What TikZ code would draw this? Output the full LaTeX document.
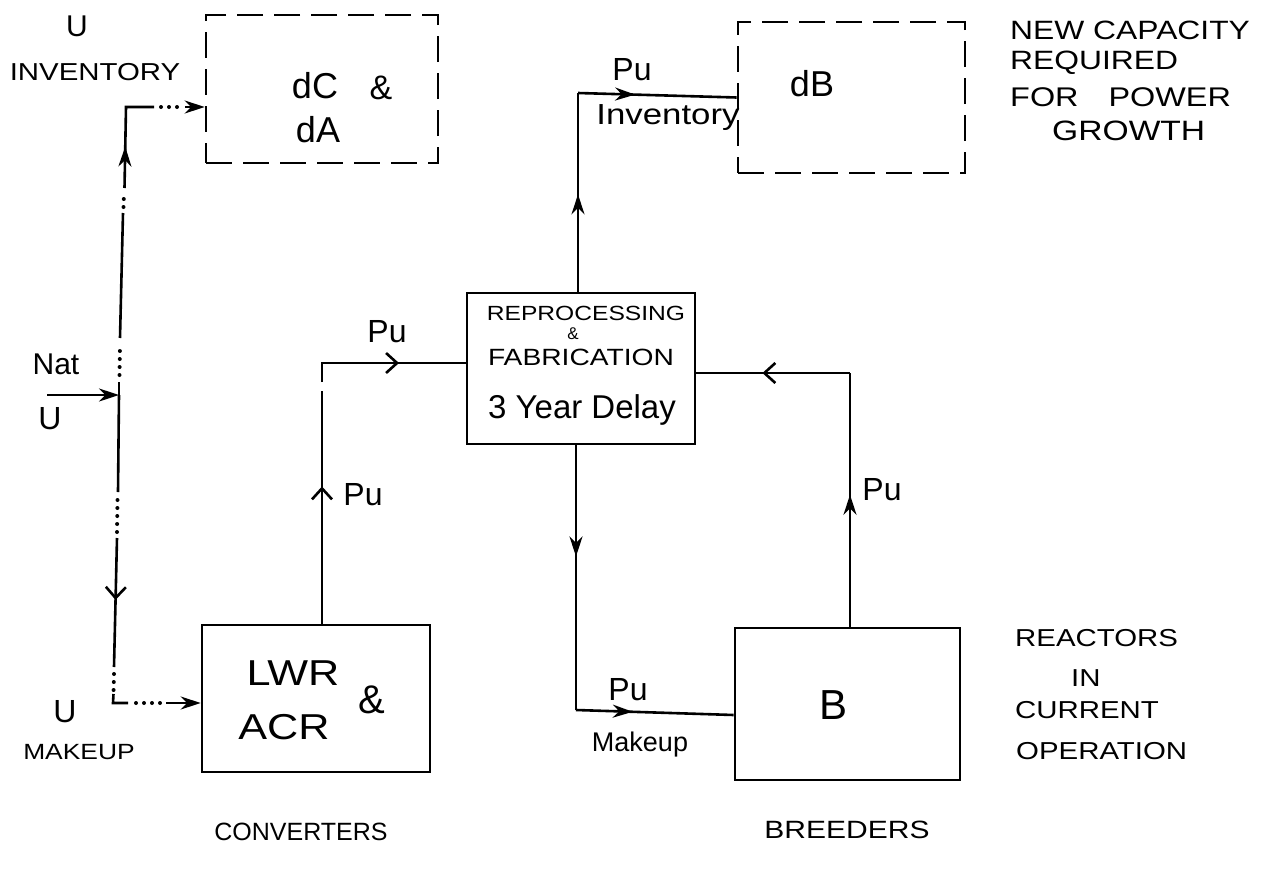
\documentclass[tikz,border=0pt]{standalone}
\usepackage{fontspec}
\setmainfont{Liberation Sans}
\newfontfamily\wfont{Liberation Sans}[FakeStretch=1.2]
\usetikzlibrary{arrows.meta,decorations.markings}
\begin{document}
\tikzset{
  ln/.style={line width=2.6pt},
  box/.style={draw, line width=2.6pt, rectangle, inner sep=0pt},
  dbox/.style={box, dash pattern=on 26pt off 11pt},
  dotln/.style={line width=4pt, line cap=round, dash pattern=on 0pt off 8pt},
  fa/.style={-{Stealth[length=20pt,width=13pt]}},
  midfill/.style={postaction={decorate},decoration={markings,mark=at position #1 with {\arrow{Stealth[length=20pt,width=13pt]}}}},
  midopen/.style={postaction={decorate},decoration={markings,mark=at position #1 with {\arrow{Straight Barb[length=11pt,width=20pt,line width=2.6pt]}}}},
  lbl/.style={inner sep=0pt, font=\fontsize{#1}{#1}\selectfont},
  wlbl/.style={inner sep=0pt, font=\wfont\fontsize{#1}{#1}\selectfont},
}
\begin{tikzpicture}[x=1pt,y=-1pt]
\useasboundingbox (0,0) rectangle (1275,873);
% boxes
\node[dbox, minimum width=232pt, minimum height=148pt] (dca) at (322,89) {};
\node[dbox, minimum width=227pt, minimum height=151pt] (db) at (851.5,97.5) {};
\node[box, minimum width=228pt, minimum height=151pt] (rep) at (581,368.5) {};
\node[box, minimum width=228pt, minimum height=147pt] (lwr) at (316,698.5) {};
\node[box, minimum width=225pt, minimum height=152pt] (b) at (847.5,704) {};
% box texts
\node[lbl=36] (tdc) at (315,86) {dC};
\node[lbl=34] (tamp1) at (381,88) {\&};
\node[lbl=36] (tda) at (318,130) {dA};
\node[lbl=36] (tdb) at (812,84) {dB};
\node[wlbl=20.5] (trep) at (586,313) {REPROCESSING};
\node[lbl=17] (tamp2) at (573,334) {\&};
\node[wlbl=23.5] (tfab) at (581,357) {FABRICATION};
\node[lbl=33] (tdel) at (582,410) {3 Year Delay};
\node[wlbl=36] (tlwr) at (293,673) {LWR};
\node[wlbl=36] (tacr) at (284,727) {ACR};
\node[lbl=40] (tamp3) at (372,700) {\&};
\node[lbl=42] (tb) at (833,705) {B};
% side labels
\node[lbl=30] (tu1) at (77,26) {U};
\node[wlbl=24.5] (tinv) at (95,72) {INVENTORY};
\node[lbl=30] (tnat) at (56,364) {Nat};
\node[lbl=32] (tu2) at (50,419) {U};
\node[lbl=32] (tu3) at (65,712) {U};
\node[wlbl=22] (tmk) at (79,752) {MAKEUP};
\node[wlbl=26.5, anchor=west] (tnew1) at (1010,30) {NEW CAPACITY};
\node[wlbl=26.5, anchor=west] (tnew2) at (1010,63) {REQUIRED};
\node[wlbl=27, anchor=west] (tnew3) at (1010,97) {FOR\hspace{30pt}POWER};
\node[wlbl=28, anchor=west] (tnew4) at (1052,131) {GROWTH};
\node[wlbl=24.5, anchor=west] (treac1) at (1015,638) {REACTORS};
\node[wlbl=24.5, anchor=west] (treac2) at (1071,678) {IN};
\node[wlbl=24.5, anchor=west] (treac3) at (1015,710) {CURRENT};
\node[wlbl=24.5, anchor=west] (treac4) at (1016,751) {OPERATION};
\node[lbl=25] (tconv) at (301,832) {CONVERTERS};
\node[wlbl=25] (tbre) at (847,830) {BREEDERS};
\node[lbl=32] (tpu1) at (632,70) {Pu};
\node[wlbl=29] (tinv2) at (668,118) {Inventory};
\node[lbl=32] (tpu2) at (387,332) {Pu};
\node[lbl=32] (tpu3) at (363,495) {Pu};
\node[lbl=32] (tpu4) at (882,490) {Pu};
\node[lbl=32] (tpu5) at (628,690) {Pu};
\node[lbl=27] (tmk2) at (640,745) {Makeup};
% corner coordinates
\coordinate (c1) at (578,93);
\coordinate (c2) at (322,363);
\coordinate (c3) at (576,710);
\coordinate (c4) at (850,373);
% Pu inventory to dB
\draw[ln, midfill=0.49] (rep.north -| c1) -- (c1);
\draw[ln, midfill=0.36] (c1) -- (db.west);
% converters to reprocessing
\coordinate (g1) at (322,391);
\coordinate (g2) at (322,382);
\draw[ln, midopen=0.59] (lwr.north -| c2) -- (g1);
\draw[ln, midopen=0.59] (g2) -- (c2) -- (rep.west |- c2);
% reprocessing to breeders
\draw[ln, midfill=0.42] (rep.south -| c3) -- (c3);
\draw[ln, midfill=0.36] (c3) -- ([yshift=-11pt]b.west);
% breeders to reprocessing
\draw[ln, midfill=0.52] (b.north -| c4) -- (c4);
\draw[ln, midopen=0.57] (c4) -- (rep.east |- c4);
% natural uranium network
\coordinate (nat) at (47,395);
\coordinate (j) at (119,395);
\draw[ln, fa] (nat) -- (j);
\coordinate (a1) at (119,382);
\coordinate (a2) at (119.5,375);
\coordinate (a3) at (120,345);
\coordinate (a4) at (120,338);
\coordinate (a5) at (123,213);
\coordinate (a6) at (123.5,207);
\coordinate (a7) at (124,193);
\coordinate (a8) at (124.5,188);
\coordinate (ctop) at (126,107);
\coordinate (h1) at (154,107);
\coordinate (h2) at (161,107);
\coordinate (h3) at (178,107);
\coordinate (h4) at (185,107);
\draw[ln] (j) -- (a1);
\draw[dotln] (a2) -- (a3);
\draw[ln] (a4) -- (a5);
\draw[dotln] (a6) -- (a7);
\draw[ln, midfill=0.38] (a8) -- (ctop) -- (h1);
\draw[dotln] (h2) -- (h3);
\draw[ln, fa] (h4) -- (dca.west |- h4);
\coordinate (d1) at (118,492);
\coordinate (d2) at (117.5,500);
\coordinate (d3) at (117,532);
\coordinate (d4) at (117,538);
\coordinate (d5) at (114,667);
\coordinate (d6) at (114,674);
\coordinate (d7) at (113.5,694);
\coordinate (cbot) at (113,703);
\coordinate (k1) at (128,703);
\coordinate (k2) at (136,703);
\coordinate (k3) at (160,703);
\coordinate (k4) at (166,703);
\draw[ln] (j) -- (d1);
\draw[dotln] (d2) -- (d3);
\draw[ln, midopen=0.48] (d4) -- (d5);
\draw[dotln] (d6) -- (d7);
\draw[ln] (d7) -- (cbot) -- (k1);
\draw[dotln] (k2) -- (k3);
\draw[ln, fa] (k4) -- (lwr.west |- k4);
\end{tikzpicture}
\end{document}
